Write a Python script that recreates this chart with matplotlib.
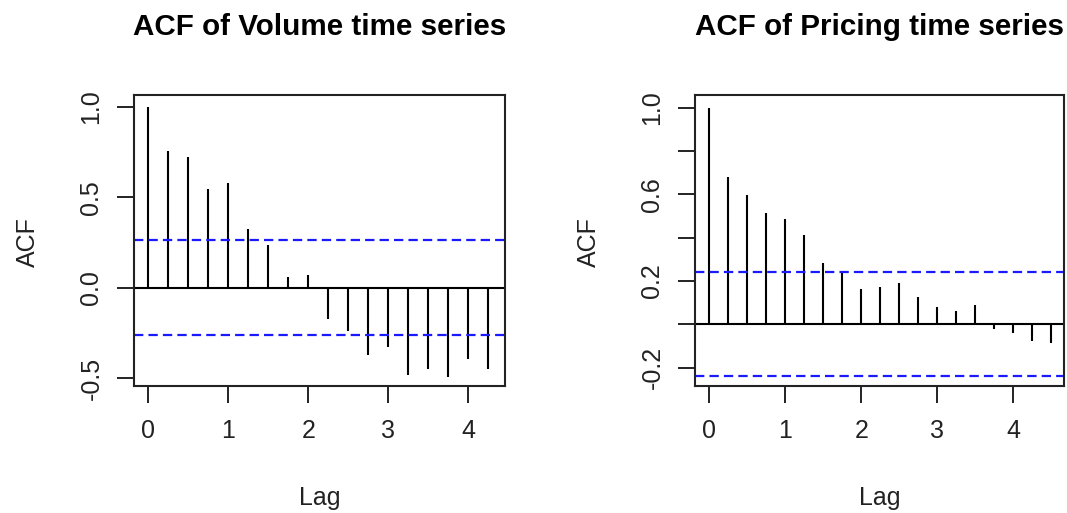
import numpy as np
import matplotlib
matplotlib.use("Agg")
import matplotlib.pyplot as plt

plt.rcParams['font.family'] = ['Liberation Sans', 'DejaVu Sans']

# Autocorrelation estimates at lags 0, 0.25, 0.5, ...
volume_lags = np.arange(18) * 0.25
volume_acf = [1.0, 0.758, 0.725, 0.546, 0.579, 0.327, 0.236, 0.059, 0.072,
              -0.173, -0.238, -0.373, -0.328, -0.483, -0.450, -0.494, -0.395, -0.450]
volume_ci = 0.262

pricing_lags = np.arange(19) * 0.25
pricing_acf = [1.0, 0.682, 0.598, 0.515, 0.488, 0.414, 0.285, 0.238, 0.163,
               0.172, 0.191, 0.125, 0.078, 0.062, 0.088, -0.022, -0.040, -0.077, -0.086]
pricing_ci = 0.240

titles = ["ACF of Volume time series", "ACF of Pricing time series"]
x_ticks = [0, 1, 2, 3, 4]

W, H = 1067, 513
fig = plt.figure(figsize=(W / 100, H / 100), dpi=100)

def px_axes(left, right, top, bottom):
    return fig.add_axes([left / W, 1 - bottom / H, (right - left) / W, (bottom - top) / H])

ax1 = px_axes(134, 505, 95, 385.7)
ax2 = px_axes(695, 1064, 95, 385.7)

def acf_panel(ax, lags, acf, ci, title, xlim, ylim, yticks, ylabels):
    ax.vlines(lags, 0, acf, colors='black', lw=1.5)
    ax.axhline(0, color='black', lw=1.5)
    for c in (ci, -ci):
        ax.axhline(c, color='#1a1aff', lw=1.6, linestyle=(0, (4.2, 2.3)))
    ax.set_xlim(*xlim)
    ax.set_ylim(*ylim)
    ax.set_xticks(x_ticks)
    ax.set_xticklabels([str(t) for t in x_ticks])
    ax.set_yticks(yticks)
    ax.set_yticklabels(ylabels, rotation=90, va='center')
    for s in ax.spines.values():
        s.set_linewidth(1.5)
        s.set_color('#222222')
    ax.tick_params(axis='both', length=12, width=1.4, color='#222222',
                   labelsize=18, labelcolor='#222222')
    ax.tick_params(axis='x', pad=12)
    ax.tick_params(axis='y', pad=10)
    ax.set_title(title, fontsize=21.3, fontweight='bold', pad=43, color='black')
    ax.set_xlabel("Lag", fontsize=18, color='#222222')
    ax.set_ylabel("ACF", fontsize=18, color='#222222')
    ax.xaxis.set_label_coords(0.5, -0.386)
    ax.xaxis.label.set_va('center')
    ax.yaxis.set_label_coords(-0.287, 0.494)
    ax.yaxis.label.set_va('center')

acf_panel(ax1, volume_lags, volume_acf, volume_ci, titles[0],
          (-0.18, 4.46), (-0.542, 1.066),
          [-0.5, 0.0, 0.5, 1.0], ["-0.5", "0.0", "0.5", "1.0"])
acf_panel(ax2, pricing_lags, pricing_acf, pricing_ci, titles[1],
          (-0.188, 4.667), (-0.283, 1.058),
          [-0.2, 0.0, 0.2, 0.4, 0.6, 0.8, 1.0],
          ["-0.2", "", "0.2", "", "0.6", "", "1.0"])

fig.savefig("out.png", dpi=100, facecolor='white')
